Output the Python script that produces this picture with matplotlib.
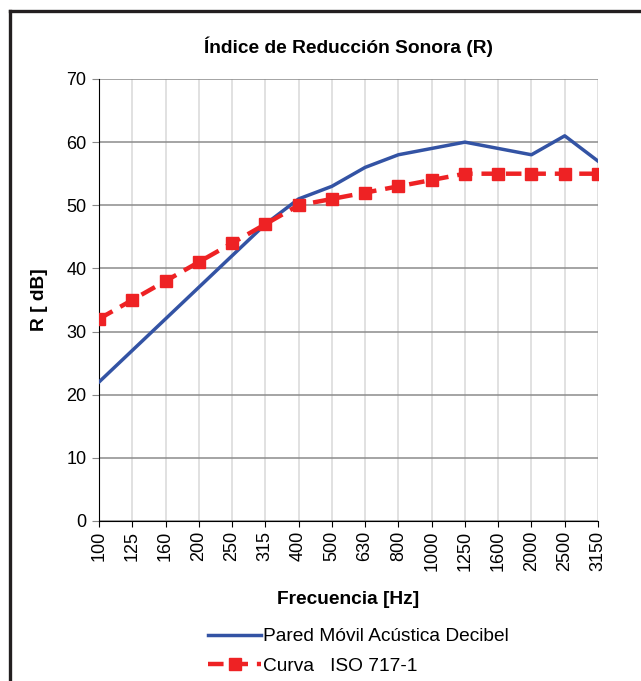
import matplotlib.pyplot as plt
from matplotlib.lines import Line2D

plt.rcParams['font.family'] = ['Liberation Sans', 'DejaVu Sans']

freqs = ['100', '125', '160', '200', '250', '315', '400', '500', '630', '800',
         '1000', '1250', '1600', '2000', '2500', '3150']
pared = [22, 27, 32, 37, 42, 47, 51, 53, 56, 58, 59, 60, 59, 58, 61, 57]
iso = [32, 35, 38, 41, 44, 47, 50, 51, 52, 53, 54, 55, 55, 55, 55, 55]

fig = plt.figure(figsize=(6.41, 6.81), dpi=100)
ax = fig.add_axes([0.1544, 0.235, 0.7785, 0.649])

x = list(range(len(freqs)))
ax.plot(x, pared, color='#3353a4', lw=2.5, label='Pared Móvil Acústica Decibel', zorder=3)
ax.plot(x, iso, color='#ee2224', lw=3.2, ls=(0, (3.5, 2.0)), marker='s', ms=9,
        label='Curva   ISO 717-1', zorder=4)

ax.set_xlim(0, len(freqs) - 1)
ax.set_ylim(0, 70)
ax.set_yticks(range(0, 71, 10))
ax.set_xticks(x)
ax.set_xticklabels(freqs, rotation=90, fontsize=13)
ax.tick_params(axis='y', labelsize=13, length=5, color='#888888', pad=4)
ax.tick_params(axis='x', length=4, color='black', pad=3)

ax.yaxis.grid(True, color='#8c8c8c', lw=1.1)
ax.xaxis.grid(True, color='#d9d9d9', lw=1.1)
ax.set_axisbelow(True)
for s in ['top', 'right']:
    ax.spines[s].set_visible(False)
ax.spines['left'].set_color('black')
ax.spines['bottom'].set_color('black')

ax.set_title('Índice de Reducción Sonora (R)', fontsize=13.8, fontweight='bold', pad=19)
ax.set_ylabel('R [ dB]', fontsize=13.8, fontweight='bold', labelpad=13)
ax.set_xlabel('Frecuencia [Hz]', fontsize=13.8, fontweight='bold', labelpad=14)

ax.legend(loc='upper center', bbox_to_anchor=(0.52, -0.225), frameon=False,
          fontsize=13.8, handlelength=2.8, handletextpad=0.1, labelspacing=0.62,
          borderaxespad=0)

# outer frame (left and top edges)
fig.add_artist(Line2D([10 / 641, 10 / 641], [0, 1 - 11 / 681], color='#231f20',
                      lw=2.4, transform=fig.transFigure, solid_capstyle='projecting'))
fig.add_artist(Line2D([10 / 641, 1], [1 - 11 / 681, 1 - 11 / 681], color='#231f20',
                      lw=2.4, transform=fig.transFigure, solid_capstyle='projecting'))

fig.savefig('out.png', dpi=100)
